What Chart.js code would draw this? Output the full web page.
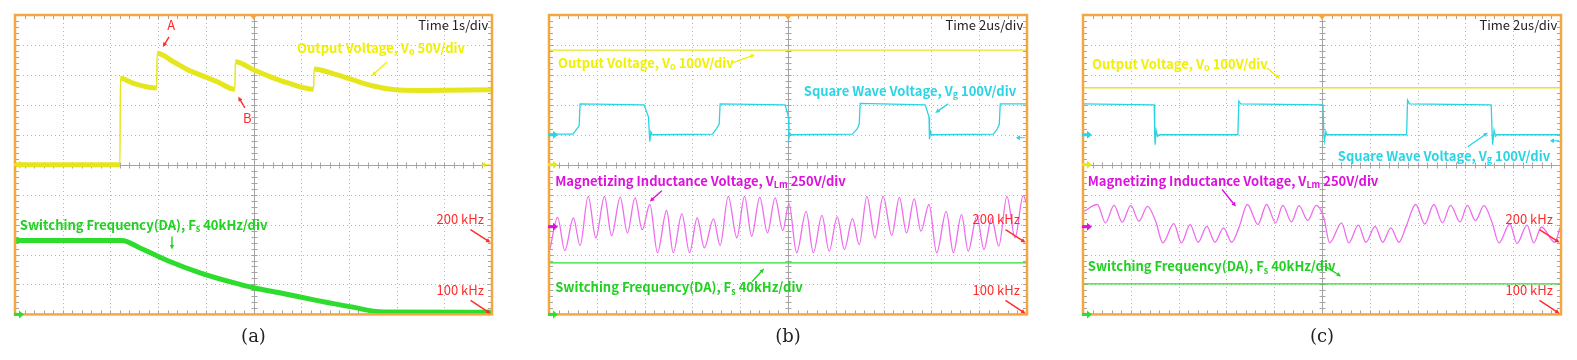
<!DOCTYPE html>
<html>
<head>
<meta charset="utf-8">
<script src="https://cdn.jsdelivr.net/npm/chart.js@4.4.1/dist/chart.umd.min.js"></script>
<style>
  html, body { margin: 0; padding: 0; background: #fff; }
  body { width: 1577px; height: 360px; position: relative; overflow: hidden; }
  .panel { position: absolute; top: 0; height: 360px; }
</style>
</head>
<body>
<div class="panel" style="left:0;width:507px"><canvas id="chartA"></canvas></div>
<div class="panel" style="left:534px;width:508px"><canvas id="chartB"></canvas></div>
<div class="panel" style="left:1068px;width:508px"><canvas id="chartC"></canvas></div>

<script>
/************** DATA (screen divisions, x 0..10, y 0..10) **************/
// (a) start-up, 1 s/div
const aVo = [[0,5.0],[2.20,5.0],[2.21,7.89],[2.48,7.72],[2.97,7.56],[2.98,8.72],[3.32,8.44],[3.60,8.19],[3.88,8.0],[4.23,7.78],[4.61,7.52],[4.62,8.44],[5.0,8.17],[5.35,7.94],[5.70,7.74],[6.26,7.52],[6.27,8.2],[6.67,8.04],[7.09,7.83],[7.51,7.63],[7.93,7.51],[8.49,7.48],[10,7.5]];
const aFs = [[0,2.47],[2.24,2.47],[2.62,2.22],[3.18,1.81],[3.88,1.39],[4.58,1.06],[5.0,0.89],[5.62,0.70],[6.32,0.47],[7.02,0.26],[7.72,0.08],[10,0.07]];

// (b) 2 us/div
const bVo = [[0,8.83],[10,8.83]];
const bVg = [[0,6.02],[0.50,6.02],[0.56,6.15],[0.63,6.3],[0.65,7.03],[1.99,7.0],[2.08,6.6],[2.10,6.0],[2.11,5.78],[2.13,6.1],[2.16,6.0],[3.42,6.02],[3.50,6.2],[3.56,6.35],[3.58,7.03],[4.94,7.0],[5.01,6.6],[5.02,5.9],[5.04,6.05],[5.07,6.0],[6.35,6.02],[6.45,6.2],[6.49,6.35],[6.51,7.05],[7.87,7.0],[7.95,6.6],[7.96,5.85],[7.98,6.1],[8.0,6.0],[9.30,6.02],[9.38,6.2],[9.42,6.35],[9.44,7.03],[10,7.03]];
const bVlm = [[0.02,2.17],[0.18,3.24],[0.33,2.13],[0.51,3.22],[0.65,2.30],[0.82,3.94],[0.98,2.56],[1.16,3.94],[1.31,2.63],[1.49,3.92],[1.64,2.72],[1.80,3.89],[1.95,2.83],[2.11,3.67],[2.27,2.06],[2.46,3.47],[2.60,2.06],[2.78,3.36],[2.94,2.06],[3.10,3.22],[3.25,2.22],[3.44,3.19],[3.58,2.30],[3.75,3.94],[3.93,2.56],[4.09,3.94],[4.24,2.61],[4.41,3.92],[4.57,2.72],[4.73,3.89],[4.89,2.80],[5.02,3.70],[5.18,2.06],[5.38,3.44],[5.53,2.06],[5.71,3.31],[5.86,2.11],[6.03,3.26],[6.18,2.17],[6.35,3.20],[6.49,2.33],[6.65,3.94],[6.82,2.56],[6.99,3.94],[7.17,2.64],[7.33,3.91],[7.48,2.72],[7.64,3.86],[7.78,2.78],[7.95,3.67],[8.11,2.06],[8.31,3.44],[8.46,2.06],[8.63,3.33],[8.77,2.11],[8.95,3.28],[9.10,2.17],[9.26,3.22],[9.41,2.28],[9.58,3.94],[9.75,2.56],[9.92,3.97],[10,3.67]];
const bFs = [[0,1.72],[10,1.72]];

// (c) 2 us/div
const cVo = [[0,7.57],[10,7.57]];
const cVg = [[0,7.03],[1.49,7.0],[1.50,6.0],[1.51,5.67],[1.53,6.15],[1.56,5.95],[1.60,6.0],[3.24,6.0],[3.26,7.12],[3.30,7.03],[5.02,7.0],[5.04,6.0],[5.05,5.8],[5.08,6.1],[5.10,6.0],[6.77,6.0],[6.79,7.15],[6.83,7.03],[8.54,7.0],[8.56,6.0],[8.57,5.67],[8.60,6.15],[8.63,5.95],[8.66,6.0],[10,6.0]];
const cVlm = [[0.01,3.43],[0.30,3.67],[0.47,3.06],[0.65,3.64],[0.82,3.08],[1.00,3.64],[1.17,3.11],[1.35,3.61],[1.52,3.11],[1.67,2.39],[1.90,3.03],[2.06,2.39],[2.24,3.00],[2.41,2.41],[2.59,2.94],[2.76,2.41],[2.94,2.89],[3.11,2.41],[3.26,2.89],[3.44,3.67],[3.66,3.00],[3.84,3.67],[4.03,3.06],[4.18,3.64],[4.36,3.09],[4.52,3.63],[4.70,3.14],[4.88,3.64],[5.04,3.22],[5.16,2.39],[5.41,3.06],[5.56,2.39],[5.76,2.98],[5.92,2.41],[6.11,2.94],[6.27,2.41],[6.44,2.89],[6.61,2.41],[6.76,2.94],[6.96,3.67],[7.15,3.02],[7.34,3.67],[7.52,3.06],[7.69,3.64],[7.89,3.09],[8.04,3.64],[8.21,3.13],[8.39,3.63],[8.56,3.06],[8.70,2.39],[8.93,3.02],[9.08,2.37],[9.29,2.98],[9.43,2.39],[9.59,2.92],[9.87,2.41],[9.98,2.90]];
const cFs = [[0,1.02],[10,1.02]];

/************** COLORS **************/
const YELLOW = "#e6e61e";
const YELLOW_TXT = "#f0f000";
const CYAN = "#2ad4e4";
const MAGENTA = "#ee6cee";
const MAGENTA_TXT = "#dd11dd";
const GREEN = "#2edc2e";
const GREEN_TXT = "#22d022";
const RED = "#ff2a2a";
const ORANGE = "#f4a640";

const LABEL_FONT = "bold 13px 'Noto Sans CJK KR'";
const SUB_FONT = "bold 9px 'Noto Sans CJK KR'";
const PLAIN_FONT = "13px 'Noto Sans CJK KR'";

/************** HELPERS **************/
function pts(arr) {
  return arr.map(p => ({ x: p[0], y: p[1] }));
}

function trace(data, color, width, extra) {
  return Object.assign({
    data: pts(data),
    showLine: true,
    borderColor: color,
    borderWidth: width,
    pointRadius: 0,
    tension: 0
  }, extra || {});
}

function drawParts(ctx, px, py, parts, color, align) {
  ctx.fillStyle = color;
  ctx.textBaseline = "middle";
  ctx.textAlign = "left";
  let total = 0;
  parts.forEach(p => {
    ctx.font = p.sub ? SUB_FONT : (p.font || LABEL_FONT);
    total += ctx.measureText(p.t).width;
  });
  let cx = align === "right" ? px - total : px;
  parts.forEach(p => {
    ctx.font = p.sub ? SUB_FONT : (p.font || LABEL_FONT);
    ctx.fillText(p.t, cx, p.sub ? py + 4 : py);
    cx += ctx.measureText(p.t).width;
  });
}

function drawArrow(ctx, x1, y1, x2, y2, color) {
  const ang = Math.atan2(y2 - y1, x2 - x1);
  const h = 5;
  ctx.strokeStyle = color;
  ctx.fillStyle = color;
  ctx.lineWidth = 1.4;
  ctx.beginPath();
  ctx.moveTo(x1, y1);
  ctx.lineTo(x2 - Math.cos(ang) * h * 0.8, y2 - Math.sin(ang) * h * 0.8);
  ctx.stroke();
  ctx.beginPath();
  ctx.moveTo(x2, y2);
  ctx.lineTo(x2 - h * Math.cos(ang - 0.45), y2 - h * Math.sin(ang - 0.45));
  ctx.lineTo(x2 - h * Math.cos(ang + 0.45), y2 - h * Math.sin(ang + 0.45));
  ctx.closePath();
  ctx.fill();
}

/************** SCOPE PLUGIN (grid, frame, labels) **************/
const scopePlugin = {
  id: "scope",
  beforeDatasetsDraw(chart, args, opts) {
    const { ctx, chartArea: a, scales: { x, y } } = chart;
    ctx.save();
    ctx.lineWidth = 1;
    ctx.strokeStyle = "#b4b4b4";
    ctx.setLineDash([1, 3]);
    for (let i = 1; i < 10; i++) {
      if (i === 5) continue;
      const px = Math.round(x.getPixelForValue(i)) + 0.5;
      const py = Math.round(y.getPixelForValue(i)) + 0.5;
      ctx.beginPath(); ctx.moveTo(px, a.top); ctx.lineTo(px, a.bottom); ctx.stroke();
      ctx.beginPath(); ctx.moveTo(a.left, py); ctx.lineTo(a.right, py); ctx.stroke();
    }
    ctx.setLineDash([]);
    ctx.strokeStyle = "#a4a4a4";
    const cx = Math.round(x.getPixelForValue(5)) + 0.5;
    const cy = Math.round(y.getPixelForValue(5)) + 0.5;
    ctx.beginPath(); ctx.moveTo(cx, a.top); ctx.lineTo(cx, a.bottom); ctx.stroke();
    ctx.beginPath(); ctx.moveTo(a.left, cy); ctx.lineTo(a.right, cy); ctx.stroke();
    // minor ticks, 5 per division
    ctx.beginPath();
    for (let k = 1; k < 50; k++) {
      const v = k / 5;
      const px = Math.round(x.getPixelForValue(v)) + 0.5;
      const py = Math.round(y.getPixelForValue(v)) + 0.5;
      ctx.moveTo(px, cy - 3); ctx.lineTo(px, cy + 3);
      ctx.moveTo(cx - 3, py); ctx.lineTo(cx + 3, py);
      ctx.moveTo(px, a.top); ctx.lineTo(px, a.top + 4);
      ctx.moveTo(px, a.bottom); ctx.lineTo(px, a.bottom - 4);
      ctx.moveTo(a.left, py); ctx.lineTo(a.left + 4, py);
      ctx.moveTo(a.right, py); ctx.lineTo(a.right - 4, py);
    }
    ctx.stroke();
    ctx.restore();
  },
  afterDatasetsDraw(chart, args, opts) {
    const { ctx, chartArea: a, scales: { x, y } } = chart;
    ctx.save();
    // frame
    ctx.strokeStyle = ORANGE;
    ctx.lineWidth = 2.5;
    ctx.strokeRect(a.left, a.top, a.right - a.left, a.bottom - a.top);
    // trigger marker
    const tx = x.getPixelForValue(5);
    ctx.fillStyle = ORANGE;
    ctx.beginPath();
    ctx.moveTo(tx - 3.5, a.top); ctx.lineTo(tx + 3.5, a.top); ctx.lineTo(tx, a.top + 5);
    ctx.closePath(); ctx.fill();
    // channel ground markers
    (opts.markers || []).forEach(m => {
      const py = y.getPixelForValue(m.y);
      ctx.fillStyle = m.color;
      ctx.strokeStyle = m.color;
      if (m.side === "right") {
        ctx.lineWidth = 1;
        ctx.beginPath(); ctx.moveTo(a.right - 2, py); ctx.lineTo(a.right - 10, py); ctx.stroke();
        ctx.beginPath(); ctx.moveTo(a.right - 11, py); ctx.lineTo(a.right - 7, py - 2.5); ctx.lineTo(a.right - 7, py + 2.5);
        ctx.closePath(); ctx.fill();
      } else {
        ctx.fillRect(a.left - 1, py - 1.5, 6, 3);
        ctx.beginPath(); ctx.moveTo(a.left + 4, py - 4); ctx.lineTo(a.left + 9, py); ctx.lineTo(a.left + 4, py + 4);
        ctx.closePath(); ctx.fill();
      }
    });
    // pointer arrows
    (opts.arrows || []).forEach(r => {
      drawArrow(ctx, x.getPixelForValue(r.from[0]), y.getPixelForValue(r.from[1]),
        x.getPixelForValue(r.to[0]), y.getPixelForValue(r.to[1]), r.color);
    });
    // labels
    (opts.labels || []).forEach(l => {
      drawParts(ctx, x.getPixelForValue(l.x), y.getPixelForValue(l.y), l.parts, l.color, l.align);
    });
    ctx.restore();
  }
};
Chart.register(scopePlugin);

/************** CHART SETUP **************/
function scopeOptions(caption, scope) {
  return {
    responsive: true,
    maintainAspectRatio: false,
    animation: false,
    layout: { padding: { left: 15, right: 15, top: 15, bottom: 0 } },
    scales: {
      x: { type: "linear", min: 0, max: 10, display: false },
      y: { type: "linear", min: 0, max: 10, display: false }
    },
    plugins: {
      legend: { display: false },
      tooltip: { enabled: false },
      title: {
        display: true,
        position: "bottom",
        text: caption,
        color: "#222",
        font: { family: "'DejaVu Serif'", size: 18, weight: "normal", lineHeight: 1.2 },
        padding: { top: 12, bottom: 12 }
      },
      scope: scope
    }
  };
}

const thinEdge = {
  borderWidth: ctx => Math.abs(ctx.p1.parsed.x - ctx.p0.parsed.x) < 0.02 ? 1.5 : undefined
};

const timeLabel = t => ({ x: 9.92, y: 9.67, color: "#222", align: "right", parts: [{ t: t, font: PLAIN_FONT }] });
const kHzLabels = xr => [
  { x: xr, y: 3.17, color: RED, align: "right", parts: [{ t: "200 kHz", font: PLAIN_FONT }] },
  { x: xr, y: 0.8, color: RED, align: "right", parts: [{ t: "100 kHz", font: PLAIN_FONT }] }
];
const kHzArrows = [
  { from: [9.55, 2.83], to: [9.97, 2.4], color: RED },
  { from: [9.55, 0.47], to: [9.97, 0.03], color: RED }
];

new Chart(document.getElementById("chartA"), {
  type: "scatter",
  data: {
    datasets: [
      trace(aVo, YELLOW, 5, { cubicInterpolationMode: "monotone", segment: thinEdge, borderJoinStyle: "round" }),
      trace(aFs, GREEN, 5, { cubicInterpolationMode: "monotone", borderJoinStyle: "round" })
    ]
  },
  options: scopeOptions("(a)", {
    markers: [
      { y: 5.0, color: YELLOW },
      { y: 0, color: GREEN },
      { y: 5.0, color: YELLOW, side: "right" }
    ],
    arrows: [
      { from: [7.80, 8.43], to: [7.48, 7.97], color: YELLOW_TXT },
      { from: [3.23, 9.27], to: [3.10, 8.93], color: RED },
      { from: [4.82, 6.9], to: [4.68, 7.27], color: RED },
      { from: [3.29, 2.6], to: [3.29, 2.17], color: GREEN_TXT }
    ].concat(kHzArrows),
    labels: [
      timeLabel("Time 1s/div"),
      { x: 3.36, y: 9.67, color: RED, align: "right", parts: [{ t: "A", font: PLAIN_FONT }] },
      { x: 4.78, y: 6.57, color: RED, parts: [{ t: "B", font: PLAIN_FONT }] },
      { x: 5.91, y: 8.9, color: YELLOW_TXT, parts: [{ t: "Output Voltage, V" }, { t: "o", sub: true }, { t: " 50V/div" }] },
      { x: 0.1, y: 3.0, color: GREEN_TXT, parts: [{ t: "Switching Frequency(DA), F" }, { t: "s", sub: true }, { t: " 40kHz/div" }] }
    ].concat(kHzLabels(9.83))
  })
});

new Chart(document.getElementById("chartB"), {
  type: "scatter",
  data: {
    datasets: [
      trace(bVo, YELLOW, 1.3),
      trace(bVg, CYAN, 1.3),
      trace(bVlm, MAGENTA, 1.3, { cubicInterpolationMode: "monotone" }),
      trace(bFs, GREEN, 1.3)
    ]
  },
  options: scopeOptions("(b)", {
    markers: [
      { y: 6.0, color: CYAN },
      { y: 5.0, color: YELLOW },
      { y: 2.93, color: MAGENTA_TXT },
      { y: 0, color: GREEN },
      { y: 5.9, color: CYAN, side: "right" }
    ],
    arrows: [
      { from: [3.83, 8.4], to: [4.31, 8.67], color: YELLOW_TXT },
      { from: [8.35, 7.03], to: [8.08, 6.73], color: CYAN },
      { from: [2.36, 4.13], to: [2.11, 3.77], color: MAGENTA_TXT },
      { from: [4.25, 1.1], to: [4.5, 1.53], color: GREEN_TXT }
    ].concat(kHzArrows),
    labels: [
      timeLabel("Time 2us/div"),
      { x: 0.19, y: 8.4, color: YELLOW_TXT, parts: [{ t: "Output Voltage, V" }, { t: "o", sub: true }, { t: " 100V/div" }] },
      { x: 5.33, y: 7.47, color: CYAN, parts: [{ t: "Square Wave Voltage, V" }, { t: "g", sub: true }, { t: " 100V/div" }] },
      { x: 0.13, y: 4.47, color: MAGENTA_TXT, parts: [{ t: "Magnetizing Inductance Voltage, V" }, { t: "Lm", sub: true }, { t: " 250V/div" }] },
      { x: 0.13, y: 0.9, color: GREEN_TXT, parts: [{ t: "Switching Frequency(DA), F" }, { t: "s", sub: true }, { t: " 40kHz/div" }] }
    ].concat(kHzLabels(9.85))
  })
});

new Chart(document.getElementById("chartC"), {
  type: "scatter",
  data: {
    datasets: [
      trace(cVo, YELLOW, 1.3),
      trace(cVg, CYAN, 1.3),
      trace(cVlm, MAGENTA, 1.3, { cubicInterpolationMode: "monotone" }),
      trace(cFs, GREEN, 1.3)
    ]
  },
  options: scopeOptions("(c)", {
    markers: [
      { y: 6.0, color: CYAN },
      { y: 5.0, color: YELLOW },
      { y: 2.93, color: MAGENTA_TXT },
      { y: 0, color: GREEN },
      { y: 5.8, color: CYAN, side: "right" }
    ],
    arrows: [
      { from: [3.85, 8.23], to: [4.12, 7.87], color: YELLOW_TXT },
      { from: [8.05, 5.6], to: [8.47, 6.07], color: CYAN },
      { from: [2.91, 4.17], to: [3.2, 3.6], color: MAGENTA_TXT },
      { from: [5.1, 1.57], to: [5.4, 1.27], color: GREEN_TXT }
    ].concat(kHzArrows),
    labels: [
      timeLabel("Time 2us/div"),
      { x: 0.19, y: 8.37, color: YELLOW_TXT, parts: [{ t: "Output Voltage, V" }, { t: "o", sub: true }, { t: " 100V/div" }] },
      { x: 5.33, y: 5.3, color: CYAN, parts: [{ t: "Square Wave Voltage, V" }, { t: "g", sub: true }, { t: " 100V/div" }] },
      { x: 0.1, y: 4.47, color: MAGENTA_TXT, parts: [{ t: "Magnetizing Inductance Voltage, V" }, { t: "Lm", sub: true }, { t: " 250V/div" }] },
      { x: 0.1, y: 1.6, color: GREEN_TXT, parts: [{ t: "Switching Frequency(DA), F" }, { t: "s", sub: true }, { t: " 40kHz/div" }] }
    ].concat(kHzLabels(9.83))
  })
});
</script>
</body>
</html>
